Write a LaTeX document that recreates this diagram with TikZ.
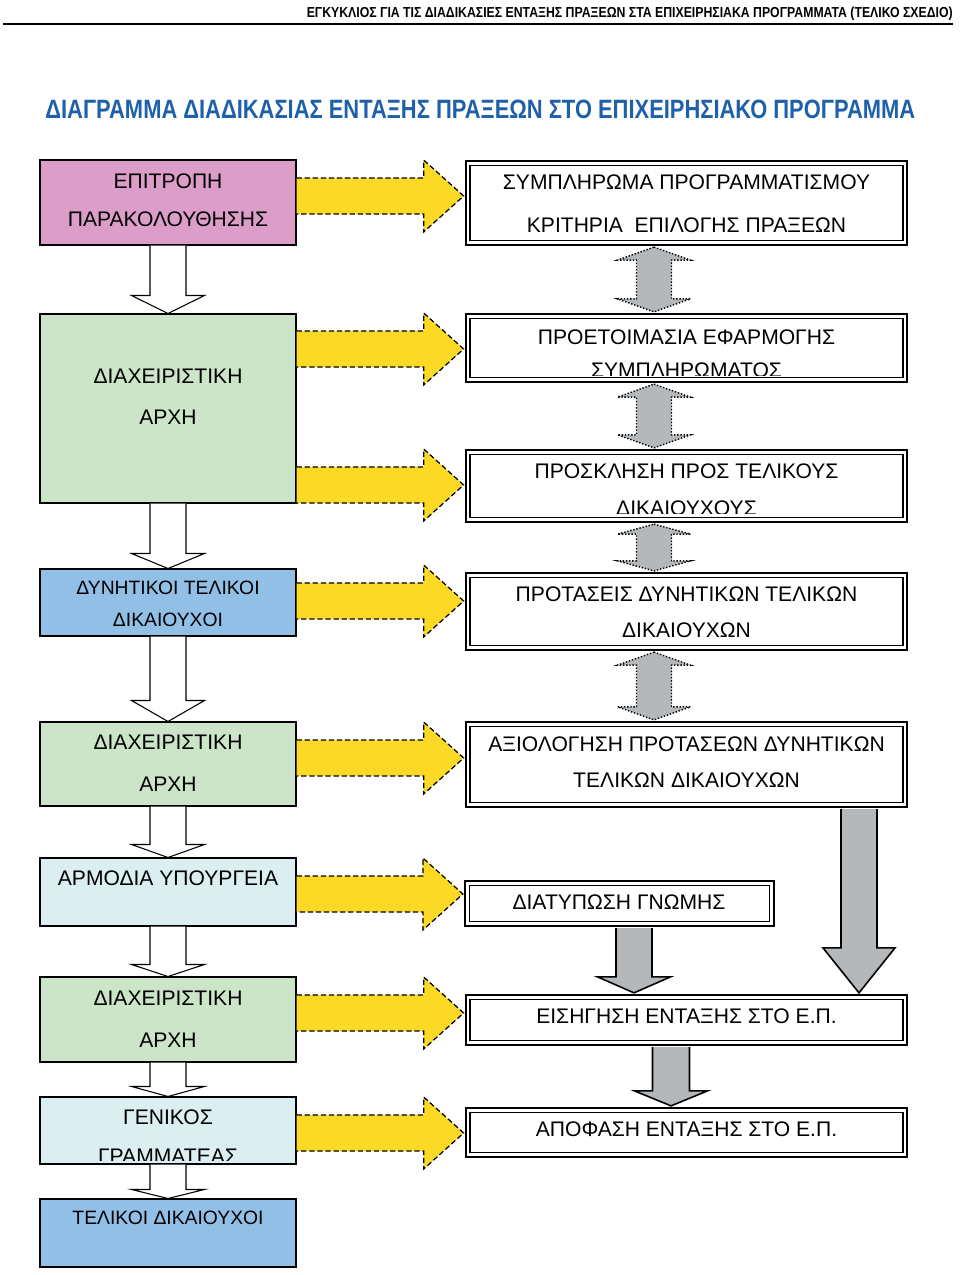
\documentclass[tikz,border=0pt]{standalone}
\usepackage{fontspec}
\setmainfont{Liberation Sans}
\usepackage{graphicx}
\usepackage{tikz}
\usetikzlibrary{calc}

\definecolor{pinkbox}{RGB}{220,158,201}
\definecolor{greenbox}{RGB}{204,228,200}
\definecolor{bluebox}{RGB}{145,191,230}
\definecolor{cyanbox}{RGB}{219,238,240}
\definecolor{yellowarr}{RGB}{252,217,37}
\definecolor{grayarr}{RGB}{180,184,187}
\definecolor{titleblue}{RGB}{30,96,170}

% block arrow down: [style]{x}{from}{to}{half shaft}{half head}{head length}
\newcommand{\fatdown}[7][]{%
  \draw[#1] let \p1=(#3), \p2=(#4), \p3=(#2,0) in
    (\x3-#5,\y1) -- (\x3-#5,\y2+#7) -- (\x3-#6,\y2+#7) -- (\x3,\y2)
    -- (\x3+#6,\y2+#7) -- (\x3+#5,\y2+#7) -- (\x3+#5,\y1);}
% block arrow with two heads
\newcommand{\fatboth}[7][]{%
  \draw[#1] let \p1=(#3), \p2=(#4), \p3=(#2,0) in
    (\x3,\y1) -- (\x3+#6,\y1-#7) -- (\x3+#5,\y1-#7) -- (\x3+#5,\y2+#7)
    -- (\x3+#6,\y2+#7) -- (\x3,\y2) -- (\x3-#6,\y2+#7) -- (\x3-#5,\y2+#7)
    -- (\x3-#5,\y1-#7) -- (\x3-#6,\y1-#7) -- cycle;}
% yellow block arrow to the right: [style]{from}{to}{y}
\newcommand{\fatright}[4][]{%
  \draw[#1] let \p1=(#2), \p2=(#3), \p3=(0,#4) in
    (\x1,\y3+0.36cm) -- (\x2-0.8cm,\y3+0.36cm) -- (\x2-0.8cm,\y3+0.72cm) -- (\x2,\y3)
    -- (\x2-0.8cm,\y3-0.72cm) -- (\x2-0.8cm,\y3-0.36cm) -- (\x1,\y3-0.36cm);}

\begin{document}
\begin{tikzpicture}[x=0.02cm,y=-0.02cm,line join=miter,
  lbox/.style={draw,line width=0.6pt,minimum width=5.12cm,inner sep=0pt},
  rbox/.style={draw,fill=white,line width=1pt,double=white,double distance=1.6pt,inner sep=0pt,minimum width=8.74cm},
  txt/.style={font=\fontsize{12}{14}\selectfont,inner sep=0pt},
  stxt/.style={font=\fontsize{11}{13}\selectfont,inner sep=0pt},
  whitearr/.style={fill=white,draw,line width=0.6pt},
  grayarr/.style={fill=grayarr,draw,line width=0.9pt},
  dotarr/.style={fill=grayarr,draw,line width=0.8pt,densely dotted},
  yelarr/.style={fill=yellowarr,draw,line width=0.7pt,dash pattern=on 3pt off 1.6pt}]
\useasboundingbox (0,0) rectangle (960,1275);

% heading
\node[anchor=base east,inner sep=0pt] (head) at (953,17) {\resizebox{12.92cm}{0.21cm}{\bfseries ΕΓΚΥΚΛΙΟΣ ΓΙΑ ΤΙΣ ΔΙΑΔΙΚΑΣΙΕΣ ΕΝΤΑΞΗΣ ΠΡΑΞΕΩΝ ΣΤΑ ΕΠΙΧΕΙΡΗΣΙΑΚΑ ΠΡΟΓΡΑΜΜΑΤΑ (ΤΕΛΙΚΟ ΣΧΕΔΙΟ)}};
\draw[line width=1pt] (3,24) -- (953,24);
\node[anchor=base west,inner sep=0pt,text=titleblue] (title) at (45,118) {\resizebox{17.4cm}{0.37cm}{\bfseries ΔΙΑΓΡΑΜΜΑ ΔΙΑΔΙΚΑΣΙΑΣ ΕΝΤΑΞΗΣ ΠΡΑΞΕΩΝ ΣΤΟ ΕΠΙΧΕΙΡΗΣΙΑΚΟ ΠΡΟΓΡΑΜΜΑ}};

% left column
\node[lbox,fill=pinkbox,minimum height=1.70cm] (mon) at (168,202.5) {};
\node[lbox,fill=greenbox,minimum height=3.78cm] (dia1) at (168,408.5) {};
\node[lbox,fill=bluebox,minimum height=1.34cm] (dyn) at (168,602.5) {};
\node[lbox,fill=greenbox,minimum height=1.68cm] (dia2) at (168,764) {};
\node[lbox,fill=cyanbox,minimum height=1.36cm] (ypo) at (168,892) {};
\node[lbox,fill=greenbox,minimum height=1.70cm] (dia3) at (168,1019.5) {};
\node[lbox,fill=cyanbox,minimum height=1.34cm] (gen) at (168,1130.5) {};
\node[lbox,fill=bluebox,minimum height=1.36cm] (tel) at (168,1233) {};

\node[txt] (mon1) at (168,181) {ΕΠΙΤΡΟΠΗ};
\node[txt] (mon2) at (168,219) {ΠΑΡΑΚΟΛΟΥΘΗΣΗΣ};
\node[txt] (dia11) at (168,376) {ΔΙΑΧΕΙΡΙΣΤΙΚΗ};
\node[txt] (dia12) at (168,417) {ΑΡΧΗ};
\node[stxt] (dyn1) at (168,588) {ΔΥΝΗΤΙΚΟΙ ΤΕΛΙΚΟΙ};
\node[stxt] (dyn2) at (168,620) {ΔΙΚΑΙΟΥΧΟΙ};
\node[txt] (dia21) at (168,742) {ΔΙΑΧΕΙΡΙΣΤΙΚΗ};
\node[txt] (dia22) at (168,784) {ΑΡΧΗ};
\node[txt] (ypo1) at (168,878) {ΑΡΜΟΔΙΑ ΥΠΟΥΡΓΕΙΑ};
\node[txt] (dia31) at (168,998) {ΔΙΑΧΕΙΡΙΣΤΙΚΗ};
\node[txt] (dia32) at (168,1040) {ΑΡΧΗ};
\node[txt] (gen1) at (168,1117) {ΓΕΝΙΚΟΣ};
\begin{scope}
\clip (40,1100) rectangle (296,1160);
\node[txt] (gen2) at (168,1156) {ΓΡΑΜΜΑΤΕΑΣ};
\end{scope}
\node[stxt] (tel1) at (168,1218) {ΤΕΛΙΚΟΙ ΔΙΚΑΙΟΥΧΟΙ};

% right column
\node[rbox,minimum height=1.59cm] (sym) at (686.5,203) {};
\node[rbox,minimum height=1.27cm] (pro) at (686.5,348) {};
\node[rbox,minimum height=1.35cm] (psk) at (686.5,486) {};
\node[rbox,minimum height=1.45cm] (prt) at (686.5,611.5) {};
\node[rbox,minimum height=1.61cm] (axi) at (686.5,764.5) {};
\node[rbox,minimum width=6.09cm,minimum height=0.81cm] (gnm) at (619.5,903.5) {};
\node[rbox,minimum height=0.91cm] (eis) at (686.5,1020) {};
\node[rbox,minimum height=0.89cm] (apo) at (686.5,1132.5) {};

\node[txt] (sym1) at (686.5,182) {ΣΥΜΠΛΗΡΩΜΑ ΠΡΟΓΡΑΜΜΑΤΙΣΜΟΥ};
\node[txt] (sym2) at (686.5,225) {ΚΡΙΤΗΡΙΑ~ ΕΠΙΛΟΓΗΣ ΠΡΑΞΕΩΝ};
\node[txt] (pro1) at (686.5,337) {ΠΡΟΕΤΟΙΜΑΣΙΑ ΕΦΑΡΜΟΓΗΣ};
\begin{scope}
\clip (470,320) rectangle (904,375);
\node[txt] (pro2) at (686.5,370.5) {ΣΥΜΠΛΗΡΩΜΑΤΟΣ};
\end{scope}
\node[txt] (psk1) at (686.5,471) {ΠΡΟΣΚΛΗΣΗ ΠΡΟΣ ΤΕΛΙΚΟΥΣ};
\begin{scope}
\clip (470,455) rectangle (904,513);
\node[txt] (psk2) at (686.5,508.5) {ΔΙΚΑΙΟΥΧΟΥΣ};
\end{scope}
\node[txt] (prt1) at (686.5,594) {ΠΡΟΤΑΣΕΙΣ ΔΥΝΗΤΙΚΩΝ ΤΕΛΙΚΩΝ};
\node[txt] (prt2) at (686.5,630) {ΔΙΚΑΙΟΥΧΩΝ};
\node[txt] (axi1) at (686.5,744) {ΑΞΙΟΛΟΓΗΣΗ ΠΡΟΤΑΣΕΩΝ ΔΥΝΗΤΙΚΩΝ};
\node[txt] (axi2) at (686.5,780) {ΤΕΛΙΚΩΝ ΔΙΚΑΙΟΥΧΩΝ};
\node[txt] (gnm1) at (619,902) {ΔΙΑΤΥΠΩΣΗ ΓΝΩΜΗΣ};
\node[txt] (eis1) at (686.5,1016) {ΕΙΣΗΓΗΣΗ ΕΝΤΑΞΗΣ ΣΤΟ Ε.Π.};
\node[txt] (apo1) at (686.5,1129) {ΑΠΟΦΑΣΗ ΕΝΤΑΞΗΣ ΣΤΟ Ε.Π.};

% white arrows down the left column
\fatdown[whitearr]{168}{mon.south}{dia1.north}{0.36cm}{0.73cm}{0.36cm}
\fatdown[whitearr]{168}{dia1.south}{dyn.north}{0.36cm}{0.73cm}{0.30cm}
\fatdown[whitearr]{168}{dyn.south}{dia2.north}{0.36cm}{0.73cm}{0.42cm}
\fatdown[whitearr]{168}{dia2.south}{ypo.north}{0.36cm}{0.73cm}{0.26cm}
\fatdown[whitearr]{168}{ypo.south}{dia3.north}{0.36cm}{0.73cm}{0.24cm}
\fatdown[whitearr]{168}{dia3.south}{gen.north}{0.36cm}{0.73cm}{0.20cm}
\fatdown[whitearr]{168}{gen.south}{tel.north}{0.36cm}{0.73cm}{0.18cm}

% yellow arrows
\fatright[yelarr]{mon.east}{[xshift=-2pt]sym.west}{196}
\fatright[yelarr]{dia1.east}{[xshift=-2pt]pro.west}{349}
\fatright[yelarr]{dia1.east}{[xshift=-2pt]psk.west}{485}
\fatright[yelarr]{dyn.east}{[xshift=-2pt]prt.west}{601}
\fatright[yelarr]{dia2.east}{[xshift=-2pt]axi.west}{758}
\fatright[yelarr]{ypo.east}{[xshift=-2pt]gnm.west}{894}
\fatright[yelarr]{dia3.east}{[xshift=-2pt]eis.west}{1013}
\fatright[yelarr]{gen.east}{[xshift=-2pt]apo.west}{1133}

% gray arrows on the right
\fatboth[dotarr]{654}{[yshift=-2pt]sym.south}{[yshift=2pt]pro.north}{0.35cm}{0.73cm}{0.26cm}
\fatboth[dotarr]{654}{[yshift=-2pt]pro.south}{[yshift=2pt]psk.north}{0.35cm}{0.73cm}{0.26cm}
\fatboth[dotarr]{654}{[yshift=-2pt]psk.south}{[yshift=2pt]prt.north}{0.35cm}{0.73cm}{0.20cm}
\fatboth[dotarr]{654}{[yshift=-2pt]prt.south}{[yshift=2pt]axi.north}{0.35cm}{0.73cm}{0.26cm}
\fatdown[grayarr]{634}{[yshift=-2pt]gnm.south}{[yshift=2pt]eis.north}{0.36cm}{0.73cm}{0.32cm}
\fatdown[grayarr]{859}{[yshift=-2pt]axi.south}{[yshift=2pt]eis.north}{0.36cm}{0.72cm}{0.90cm}
\fatdown[grayarr]{671}{[yshift=-2pt]eis.south}{[yshift=2pt]apo.north}{0.37cm}{0.73cm}{0.30cm}
\end{tikzpicture}
\end{document}
